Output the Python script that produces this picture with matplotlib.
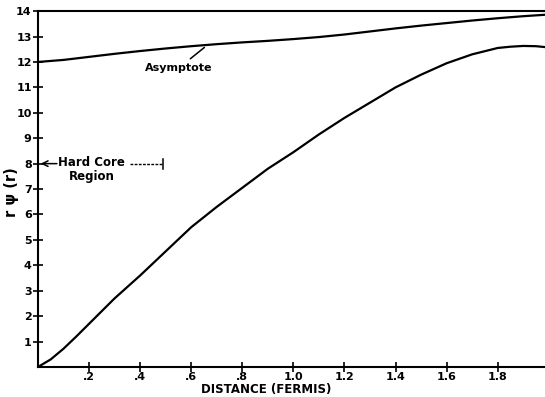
import matplotlib.pyplot as plt

# wave function r*psi(r)
r_psi = [0.0, 0.05, 0.1, 0.15, 0.2, 0.3, 0.4, 0.5, 0.6, 0.7, 0.8, 0.9, 1.0, 1.1, 1.2,
         1.3, 1.4, 1.5, 1.6, 1.7, 1.8, 1.85, 1.9, 1.95, 1.99]
psi = [0.0, 0.3, 0.72, 1.2, 1.7, 2.7, 3.6, 4.55, 5.5, 6.3, 7.05, 7.8, 8.45, 9.15, 9.8,
       10.4, 11.0, 11.5, 11.95, 12.3, 12.55, 12.6, 12.63, 12.62, 12.58]

# asymptote curve
r_asym = [0.0, 0.1, 0.2, 0.3, 0.4, 0.5, 0.6, 0.7, 0.8, 0.9, 1.0, 1.1, 1.2, 1.3, 1.4,
          1.5, 1.6, 1.7, 1.8, 1.9, 1.99]
asym = [12.0, 12.08, 12.2, 12.32, 12.43, 12.53, 12.62, 12.7, 12.77, 12.83, 12.9, 12.98,
        13.08, 13.2, 13.32, 13.43, 13.53, 13.63, 13.72, 13.8, 13.86]

xticks = [0.2, 0.4, 0.6, 0.8, 1.0, 1.2, 1.4, 1.6, 1.8]
xlabels = [".2", ".4", ".6", ".8", "1.0", "1.2", "1.4", "1.6", "1.8"]
yticks = list(range(1, 15))

plt.rcParams['font.family'] = ['DejaVu Sans']
plt.rcParams['font.weight'] = 'bold'
plt.rcParams['axes.labelweight'] = 'bold'

fig = plt.figure(figsize=(5.45, 3.97), dpi=100)
ax = fig.add_axes([0.0697, 0.0756, 0.9303, 0.8964])

ax.plot(r_psi, psi, color="black", lw=1.6)
ax.plot(r_asym, asym, color="black", lw=1.6)

ax.set_xlim(0, 1.985)
ax.set_ylim(0, 14)
ax.set_xticks(xticks)
ax.set_xticklabels(xlabels)
ax.set_yticks(yticks)
ax.tick_params(direction="inout", length=7, width=1.2, labelsize=8, pad=1)
ax.tick_params(axis="x", pad=0)
ax.spines["right"].set_visible(False)
for s in ["left", "bottom", "top"]:
    ax.spines[s].set_linewidth(1.5)

ax.set_xlabel("DISTANCE (FERMIS)", fontsize=8.5, va="center")
ax.xaxis.set_label_coords(0.45, -0.063)
ax.set_ylabel("r ψ (r)", fontsize=10.5, va="center")
ax.yaxis.set_label_coords(-0.053, 0.49)

# asymptote label
ax.annotate("Asymptote", xy=(0.66, 12.64), xytext=(0.55, 11.75),
            ha="center", va="center", fontsize=8,
            arrowprops=dict(arrowstyle="-", color="black", lw=1.1))

# hard core region
ax.text(0.21, 7.75, "Hard Core\nRegion", ha="center", va="center", fontsize=8.5,
        linespacing=1.1)
ax.annotate("", xy=(0.0, 8.0), xytext=(0.085, 8.0),
            arrowprops=dict(arrowstyle="->", color="black", lw=1.1))
ax.plot([0.36, 0.49], [8.0, 8.0], color="black", lw=1, ls=(0, (2, 1)))
ax.plot([0.49, 0.49], [7.8, 8.2], color="black", lw=1.1)

fig.savefig("out.png", dpi=100)
